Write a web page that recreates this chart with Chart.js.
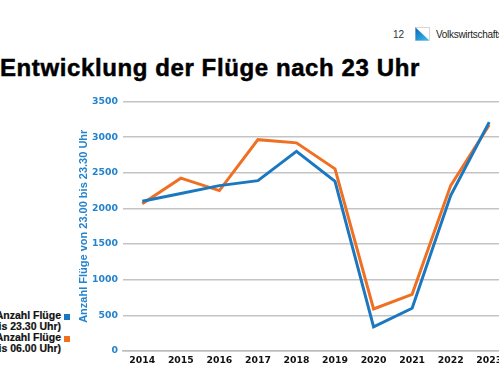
<!DOCTYPE html>
<html>
<head>
<meta charset="utf-8">
<script src="https://cdn.jsdelivr.net/npm/chart.js@4/dist/chart.umd.min.js"></script>
<style>
  html, body { margin: 0; padding: 0; background: #fff; }
  body { width: 499px; height: 376px; overflow: hidden; position: relative; font-family: "Liberation Sans", Arial, sans-serif; }
  #seite { position: absolute; left: 393px; top: 29px; font-size: 10px; color: #333; }
  #logo { position: absolute; left: 415px; top: 27px; width: 15px; height: 14px; }
  #amt { position: absolute; left: 436px; top: 29px; font-size: 10px; color: #222; white-space: nowrap; letter-spacing: -0.3px; }
  #titel { position: absolute; left: 0px; top: 54px; font-size: 24px; font-weight: bold; color: #000; white-space: nowrap; letter-spacing: 0.6px; -webkit-text-stroke: 0.5px #000; }
  #legende { position: absolute; right: 429px; top: 310px; font-size: 10.5px; font-weight: bold; color: #111; line-height: 11px; -webkit-text-stroke: 0.2px #111; }
  .eintrag { display: flex; align-items: flex-start; justify-content: flex-end; white-space: nowrap; }
  .eintrag .txt { text-align: right; }
  .eintrag .box { width: 6px; height: 6px; margin-left: 3px; margin-top: 4px; }
  #wrap { position: absolute; left: 0; top: 90px; width: 520px; height: 280px; }
</style>
</head>
<body>
<div id="seite">12</div>
<svg id="logo" viewBox="0 0 15 14">
  <defs>
    <linearGradient id="g" x1="0" y1="0" x2="1" y2="1">
      <stop offset="0" stop-color="#0b63b5"/>
      <stop offset="1" stop-color="#38c6f2"/>
    </linearGradient>
  </defs>
  <rect x="0.5" y="0.5" width="14" height="13" fill="#fff" stroke="#bbb" stroke-width="0.6"/>
  <polygon points="0.5,0.5 14.5,13.5 0.5,13.5" fill="url(#g)"/>
</svg>
<div id="amt">Volkswirtschaftsdirektion</div>
<div id="titel">Entwicklung der Flüge nach 23 Uhr</div>
<div id="legende"></div>
<div id="wrap"><canvas id="chart"></canvas></div>
<script>
// ── DATEN ──
const jahre = ['2014', '2015', '2016', '2017', '2018', '2019', '2020', '2021', '2022', '2023'];
const fluegeBis2330 = [2100, 2210, 2320, 2390, 2800, 2380, 340, 600, 2180, 3210];
const fluegeBis0600 = [2065, 2425, 2250, 2965, 2920, 2555, 590, 795, 2320, 3170];
const serienNamen = [['Anzahl Flüge', '(bis 23.30 Uhr)'], ['Anzahl Flüge', '(bis 06.00 Uhr)']];
const achsenTitel = 'Anzahl Flüge von 23.00 bis 23.30 Uhr';

const blau = '#1b78c0';
const orange = '#ef7022';
const tickBlau = '#2383cc';

// ── LEGENDE (HTML) ──
const legende = document.getElementById('legende');
[blau, orange].forEach((farbe, i) => {
  const e = document.createElement('div');
  e.className = 'eintrag';
  e.innerHTML = `<div class="txt">${serienNamen[i].join('<br>')}</div><div class="box" style="background:${farbe}"></div>`;
  legende.appendChild(e);
});

// ── DIAGRAMM ──
const tickFont = { family: 'DejaVu Sans', size: 9.3, weight: 'bold' };
const ctx = document.getElementById('chart').getContext('2d');
new Chart(ctx, {
  type: 'line',
  data: {
    labels: jahre,
    datasets: [
      { label: serienNamen[0].join(' '), data: fluegeBis2330, borderColor: blau, backgroundColor: blau, borderWidth: 3, pointRadius: 0, tension: 0 },
      { label: serienNamen[1].join(' '), data: fluegeBis0600, borderColor: orange, backgroundColor: orange, borderWidth: 3, pointRadius: 0, tension: 0 }
    ]
  },
  options: {
    responsive: true,
    maintainAspectRatio: false,
    animation: false,
    layout: { padding: { top: 11.5, right: 11.5, left: 0, bottom: 0 } },
    plugins: { legend: { display: false }, tooltip: { enabled: false } },
    scales: {
      x: {
        offset: true,
        grid: { display: false, drawTicks: false },
        border: { display: true, color: '#bdbdbd', width: 1.5 },
        ticks: { color: '#111', padding: 4, maxRotation: 0, font: tickFont },
        afterFit: s => { s.height = 19; }
      },
      y: {
        min: 0, max: 3500,
        ticks: { stepSize: 500, color: tickBlau, padding: 5, font: tickFont, callback: v => String(v) },
        grid: { color: '#c4c4c4', lineWidth: 1.5, drawTicks: false },
        border: { display: false },
        title: { display: true, text: achsenTitel, color: tickBlau, padding: { top: 77, bottom: 0 }, font: { family: 'Liberation Sans', size: 11, weight: 'bold' } },
        afterFit: s => { s.width = 123; }
      }
    }
  }
});
</script>
</body>
</html>
